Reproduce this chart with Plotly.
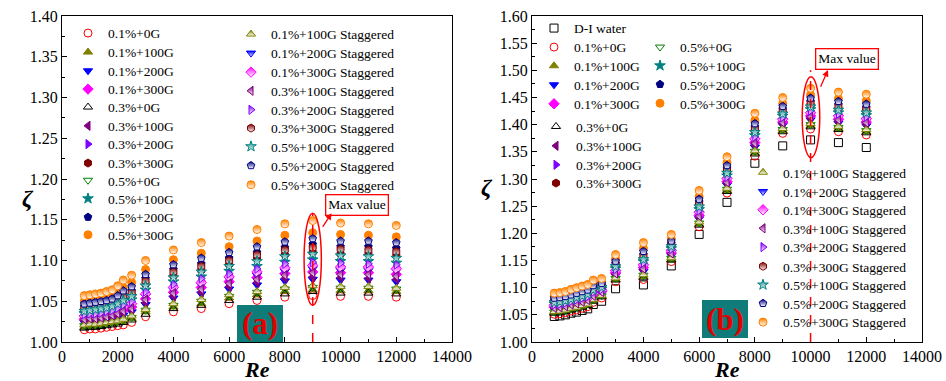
import plotly.graph_objects as go

W, H = 946, 381

# Reynolds numbers shared by every series
re_values = [800, 1000, 1200, 1400, 1600, 1800, 2000, 2200, 2500,
             3000, 4000, 5000, 6000, 7000, 8000, 9000, 10000, 11000, 12000]

# ---- panel (a) ----
a_01_0 = [1.015, 1.016, 1.016, 1.017, 1.018, 1.019, 1.020, 1.021, 1.024, 1.031, 1.037, 1.041, 1.047, 1.051, 1.055, 1.057, 1.056, 1.056, 1.055]
a_01_100 = [1.018, 1.019, 1.019, 1.020, 1.022, 1.023, 1.024, 1.025, 1.029, 1.037, 1.043, 1.047, 1.054, 1.058, 1.062, 1.064, 1.063, 1.063, 1.062]
a_01_200 = [1.024, 1.025, 1.026, 1.027, 1.028, 1.029, 1.031, 1.033, 1.037, 1.046, 1.054, 1.059, 1.065, 1.070, 1.075, 1.077, 1.076, 1.076, 1.074]
a_01_300 = [1.028, 1.029, 1.030, 1.031, 1.032, 1.033, 1.036, 1.039, 1.043, 1.053, 1.061, 1.067, 1.074, 1.079, 1.084, 1.086, 1.085, 1.085, 1.083]
a_03_0 = [1.017, 1.018, 1.018, 1.019, 1.020, 1.021, 1.022, 1.024, 1.027, 1.034, 1.041, 1.045, 1.051, 1.055, 1.059, 1.062, 1.060, 1.060, 1.059]
a_03_100 = [1.026, 1.027, 1.027, 1.028, 1.029, 1.030, 1.032, 1.035, 1.039, 1.048, 1.056, 1.061, 1.068, 1.073, 1.078, 1.080, 1.079, 1.078, 1.077]
a_03_200 = [1.033, 1.034, 1.034, 1.035, 1.037, 1.038, 1.041, 1.044, 1.048, 1.060, 1.069, 1.075, 1.082, 1.088, 1.093, 1.096, 1.094, 1.093, 1.092]
a_03_300 = [1.039, 1.040, 1.041, 1.042, 1.044, 1.045, 1.048, 1.053, 1.058, 1.071, 1.081, 1.088, 1.095, 1.102, 1.107, 1.110, 1.108, 1.108, 1.106]
a_05_0 = [1.020, 1.021, 1.021, 1.022, 1.023, 1.024, 1.025, 1.027, 1.030, 1.039, 1.045, 1.050, 1.056, 1.061, 1.065, 1.067, 1.066, 1.066, 1.065]
a_05_100 = [1.035, 1.036, 1.037, 1.038, 1.039, 1.041, 1.044, 1.047, 1.052, 1.064, 1.074, 1.080, 1.087, 1.093, 1.098, 1.101, 1.099, 1.099, 1.097]
a_05_200 = [1.044, 1.045, 1.045, 1.046, 1.048, 1.050, 1.053, 1.058, 1.063, 1.078, 1.089, 1.096, 1.103, 1.110, 1.116, 1.120, 1.117, 1.117, 1.115]
a_05_300 = [1.050, 1.051, 1.052, 1.053, 1.055, 1.057, 1.061, 1.067, 1.073, 1.089, 1.101, 1.109, 1.117, 1.124, 1.131, 1.134, 1.132, 1.131, 1.129]
a_01_100s = [1.021, 1.022, 1.022, 1.023, 1.024, 1.025, 1.026, 1.028, 1.032, 1.040, 1.047, 1.052, 1.058, 1.062, 1.067, 1.069, 1.068, 1.068, 1.066]
a_01_200s = [1.030, 1.031, 1.032, 1.033, 1.034, 1.035, 1.038, 1.041, 1.045, 1.056, 1.064, 1.070, 1.077, 1.082, 1.087, 1.090, 1.088, 1.088, 1.087]
a_01_300s = [1.032, 1.033, 1.033, 1.034, 1.036, 1.037, 1.040, 1.043, 1.047, 1.059, 1.067, 1.073, 1.080, 1.086, 1.091, 1.094, 1.092, 1.092, 1.090]
a_03_100s = [1.028, 1.029, 1.029, 1.030, 1.031, 1.033, 1.035, 1.038, 1.041, 1.052, 1.060, 1.065, 1.072, 1.077, 1.082, 1.085, 1.083, 1.083, 1.081]
a_03_200s = [1.034, 1.035, 1.035, 1.036, 1.038, 1.039, 1.042, 1.046, 1.050, 1.062, 1.071, 1.078, 1.084, 1.090, 1.096, 1.098, 1.097, 1.096, 1.095]
a_03_300s = [1.042, 1.043, 1.044, 1.045, 1.046, 1.048, 1.051, 1.056, 1.061, 1.075, 1.086, 1.093, 1.100, 1.107, 1.113, 1.116, 1.114, 1.113, 1.111]
a_05_100s = [1.038, 1.039, 1.040, 1.041, 1.042, 1.044, 1.047, 1.051, 1.056, 1.069, 1.079, 1.086, 1.093, 1.099, 1.105, 1.108, 1.106, 1.105, 1.103]
a_05_200s = [1.047, 1.048, 1.049, 1.050, 1.051, 1.053, 1.057, 1.063, 1.068, 1.083, 1.095, 1.103, 1.110, 1.117, 1.123, 1.127, 1.124, 1.124, 1.122]
a_05_300s = [1.057, 1.058, 1.059, 1.060, 1.062, 1.064, 1.069, 1.076, 1.082, 1.100, 1.113, 1.122, 1.130, 1.138, 1.145, 1.149, 1.146, 1.145, 1.143]

# ---- panel (b) ----
b_water = [1.047, 1.048, 1.050, 1.053, 1.055, 1.058, 1.061, 1.069, 1.075, 1.098, 1.105, 1.140, 1.198, 1.257, 1.329, 1.361, 1.372, 1.367, 1.358]
b_01_0 = [1.051, 1.052, 1.054, 1.057, 1.059, 1.062, 1.065, 1.073, 1.081, 1.111, 1.115, 1.148, 1.212, 1.274, 1.342, 1.384, 1.392, 1.387, 1.381]
b_01_100 = [1.054, 1.055, 1.057, 1.060, 1.062, 1.065, 1.068, 1.076, 1.084, 1.115, 1.120, 1.152, 1.217, 1.279, 1.348, 1.389, 1.398, 1.393, 1.387]
b_01_200 = [1.060, 1.061, 1.063, 1.066, 1.068, 1.071, 1.074, 1.082, 1.089, 1.122, 1.130, 1.159, 1.227, 1.289, 1.359, 1.399, 1.409, 1.403, 1.398]
b_01_300 = [1.064, 1.065, 1.067, 1.070, 1.072, 1.075, 1.078, 1.086, 1.093, 1.127, 1.137, 1.164, 1.233, 1.295, 1.367, 1.405, 1.416, 1.410, 1.405]
b_03_0 = [1.053, 1.054, 1.056, 1.059, 1.061, 1.064, 1.067, 1.075, 1.083, 1.114, 1.118, 1.151, 1.215, 1.277, 1.346, 1.387, 1.396, 1.391, 1.385]
b_03_100 = [1.061, 1.062, 1.064, 1.067, 1.069, 1.072, 1.075, 1.083, 1.090, 1.124, 1.132, 1.161, 1.229, 1.291, 1.362, 1.401, 1.411, 1.405, 1.400]
b_03_200 = [1.067, 1.068, 1.070, 1.074, 1.076, 1.079, 1.082, 1.090, 1.096, 1.132, 1.144, 1.169, 1.240, 1.302, 1.375, 1.412, 1.424, 1.418, 1.413]
b_03_300 = [1.074, 1.075, 1.077, 1.080, 1.083, 1.086, 1.089, 1.097, 1.102, 1.140, 1.154, 1.177, 1.251, 1.313, 1.388, 1.422, 1.436, 1.429, 1.425]
b_05_0 = [1.055, 1.056, 1.058, 1.061, 1.064, 1.067, 1.070, 1.078, 1.085, 1.117, 1.123, 1.154, 1.219, 1.281, 1.351, 1.391, 1.400, 1.395, 1.389]
b_05_100 = [1.070, 1.071, 1.073, 1.076, 1.079, 1.082, 1.085, 1.093, 1.098, 1.135, 1.148, 1.172, 1.244, 1.306, 1.380, 1.416, 1.428, 1.422, 1.417]
b_05_200 = [1.078, 1.079, 1.081, 1.084, 1.087, 1.090, 1.093, 1.101, 1.106, 1.145, 1.161, 1.182, 1.258, 1.320, 1.396, 1.429, 1.443, 1.437, 1.432]
b_05_300 = [1.084, 1.085, 1.087, 1.091, 1.093, 1.096, 1.099, 1.107, 1.111, 1.153, 1.172, 1.190, 1.268, 1.330, 1.408, 1.439, 1.455, 1.448, 1.444]
b_01_100s = [1.056, 1.057, 1.059, 1.062, 1.064, 1.067, 1.070, 1.078, 1.086, 1.118, 1.124, 1.155, 1.221, 1.283, 1.352, 1.393, 1.402, 1.397, 1.391]
b_01_200s = [1.065, 1.066, 1.068, 1.071, 1.074, 1.077, 1.080, 1.088, 1.094, 1.129, 1.140, 1.166, 1.236, 1.298, 1.370, 1.408, 1.419, 1.413, 1.408]
b_01_300s = [1.067, 1.068, 1.070, 1.073, 1.075, 1.078, 1.081, 1.089, 1.095, 1.131, 1.142, 1.168, 1.239, 1.301, 1.374, 1.410, 1.422, 1.416, 1.411]
b_03_100s = [1.063, 1.064, 1.066, 1.069, 1.071, 1.074, 1.077, 1.085, 1.092, 1.126, 1.135, 1.163, 1.232, 1.294, 1.366, 1.404, 1.415, 1.409, 1.404]
b_03_200s = [1.069, 1.070, 1.072, 1.075, 1.078, 1.081, 1.084, 1.092, 1.097, 1.134, 1.146, 1.171, 1.242, 1.304, 1.378, 1.414, 1.426, 1.420, 1.415]
b_03_300s = [1.076, 1.077, 1.079, 1.083, 1.085, 1.088, 1.091, 1.099, 1.104, 1.143, 1.159, 1.180, 1.255, 1.317, 1.393, 1.426, 1.440, 1.434, 1.429]
b_05_100s = [1.073, 1.074, 1.076, 1.079, 1.082, 1.085, 1.088, 1.096, 1.101, 1.139, 1.152, 1.176, 1.249, 1.311, 1.386, 1.420, 1.433, 1.427, 1.422]
b_05_200s = [1.081, 1.082, 1.084, 1.087, 1.090, 1.093, 1.096, 1.104, 1.108, 1.149, 1.167, 1.186, 1.263, 1.325, 1.402, 1.434, 1.449, 1.443, 1.438]
b_05_300s = [1.090, 1.091, 1.093, 1.097, 1.100, 1.103, 1.106, 1.114, 1.117, 1.161, 1.183, 1.198, 1.279, 1.341, 1.421, 1.450, 1.467, 1.460, 1.456]

SERIF = "Liberation Serif"

# name -> (symbol, colour, half-filled?)
STYLE = {
    "D-I water": ("square-open", "#000000", False),
    "0.1%+0G": ("circle-open", "#ff0000", False),
    "0.1%+100G": ("triangle-up", "#808000", False),
    "0.1%+200G": ("triangle-down", "#0000ff", False),
    "0.1%+300G": ("diamond", "#ff00ff", False),
    "0.3%+0G": ("triangle-up-open", "#000000", False),
    "0.3%+100G": ("triangle-left", "#800080", False),
    "0.3%+200G": ("triangle-right", "#8000ff", False),
    "0.3%+300G": ("hexagon", "#800000", False),
    "0.5%+0G": ("triangle-down-open", "#008000", False),
    "0.5%+100G": ("star", "#008080", False),
    "0.5%+200G": ("pentagon", "#000080", False),
    "0.5%+300G": ("circle", "#ff8000", False),
    "0.1%+100G Staggered": ("triangle-up", "#808000", True),
    "0.1%+200G Staggered": ("triangle-down", "#0000ff", True),
    "0.1%+300G Staggered": ("diamond", "#ff00ff", True),
    "0.3%+100G Staggered": ("triangle-left", "#800080", True),
    "0.3%+200G Staggered": ("triangle-right", "#8000ff", True),
    "0.3%+300G Staggered": ("hexagon", "#800000", True),
    "0.5%+100G Staggered": ("star", "#008080", True),
    "0.5%+200G Staggered": ("pentagon", "#000080", True),
    "0.5%+300G Staggered": ("circle", "#ff8000", True),
}

# (name, values, legend marker centre in pixels)
panel_a = [
    ("0.1%+0G", a_01_0, (88, 33.3)),
    ("0.1%+100G", a_01_100, (88, 52.3)),
    ("0.1%+200G", a_01_200, (88, 71.0)),
    ("0.1%+300G", a_01_300, (88, 89.3)),
    ("0.3%+0G", a_03_0, (88, 107.3)),
    ("0.3%+100G", a_03_100, (88, 126.0)),
    ("0.3%+200G", a_03_200, (88, 144.3)),
    ("0.3%+300G", a_03_300, (88, 163.3)),
    ("0.5%+0G", a_05_0, (88, 180.5)),
    ("0.5%+100G", a_05_100, (88, 198.8)),
    ("0.5%+200G", a_05_200, (88, 217.3)),
    ("0.5%+300G", a_05_300, (88, 235.0)),
    ("0.1%+100G Staggered", a_01_100s, (251, 34.3)),
    ("0.1%+200G Staggered", a_01_200s, (251, 53.3)),
    ("0.1%+300G Staggered", a_01_300s, (251, 72.3)),
    ("0.3%+100G Staggered", a_03_100s, (251, 91.0)),
    ("0.3%+200G Staggered", a_03_200s, (251, 110.0)),
    ("0.3%+300G Staggered", a_03_300s, (251, 128.3)),
    ("0.5%+100G Staggered", a_05_100s, (251, 146.7)),
    ("0.5%+200G Staggered", a_05_200s, (251, 165.7)),
    ("0.5%+300G Staggered", a_05_300s, (251, 185.0)),
]

panel_b = [
    ("D-I water", b_water, (554, 28.3)),
    ("0.1%+0G", b_01_0, (554, 47.3)),
    ("0.1%+100G", b_01_100, (554, 66.0)),
    ("0.1%+200G", b_01_200, (554, 85.0)),
    ("0.1%+300G", b_01_300, (554, 104.0)),
    ("0.3%+0G", b_03_0, (556, 126.7)),
    ("0.3%+100G", b_03_100, (556, 146.0)),
    ("0.3%+200G", b_03_200, (556, 165.0)),
    ("0.3%+300G", b_03_300, (556, 183.3)),
    ("0.5%+0G", b_05_0, (660, 47.3)),
    ("0.5%+100G", b_05_100, (660, 65.8)),
    ("0.5%+200G", b_05_200, (660, 84.5)),
    ("0.5%+300G", b_05_300, (660, 103.5)),
    ("0.1%+100G Staggered", b_01_100s, (763, 172.5)),
    ("0.1%+200G Staggered", b_01_200s, (763, 191.7)),
    ("0.1%+300G Staggered", b_01_300s, (763, 210.0)),
    ("0.3%+100G Staggered", b_03_100s, (763, 228.5)),
    ("0.3%+200G Staggered", b_03_200s, (763, 247.3)),
    ("0.3%+300G Staggered", b_03_300s, (763, 266.5)),
    ("0.5%+100G Staggered", b_05_100s, (763, 285.0)),
    ("0.5%+200G Staggered", b_05_200s, (763, 303.5)),
    ("0.5%+300G Staggered", b_05_300s, (763, 322.3)),
]

fig = go.Figure()
legends = {}
count = 0


def add_series(name, values, pos, xa, ya):
    global count
    count += 1
    key = "legend" if count == 1 else f"legend{count}"
    symbol, color, half = STYLE[name]
    marker = dict(symbol=symbol, size=8, color=color,
                  line=dict(color=color, width=1))
    if half:
        marker["gradient"] = dict(type="vertical", color="white")
    fig.add_trace(go.Scatter(
        x=re_values, y=values, mode="markers", name=name,
        marker=marker, xaxis=xa, yaxis=ya, legend=key, showlegend=True,
    ))
    mx, my = pos
    legends[key] = dict(
        x=(mx - 20) / W, y=1 - my / H, xanchor="left", yanchor="middle",
        bgcolor="rgba(0,0,0,0)", borderwidth=0,
        font=dict(family=SERIF, size=13.5, color="black"),
        itemclick=False, itemdoubleclick=False,
    )


for name, vals, pos in panel_a:
    add_series(name, vals, pos, "x", "y")
for name, vals, pos in panel_b:
    add_series(name, vals, pos, "x2", "y2")

axis_common = dict(
    showline=True, mirror=True, linecolor="black", linewidth=1.3,
    ticks="inside", ticklen=5, tickwidth=1.2, tickcolor="black",
    showgrid=False, zeroline=False, automargin=False,
    tickfont=dict(family=SERIF, size=16, color="black"),
)

pa_x = [62 / W, 452 / W]
pb_x = [532 / W, 922 / W]
p_y = [(H - 342) / H, (H - 16) / H]

fig.update_layout(
    width=W, height=H, margin=dict(l=0, r=0, t=0, b=0, autoexpand=False),
    paper_bgcolor="white", plot_bgcolor="white",
    xaxis=dict(domain=pa_x, range=[0, 14000], dtick=2000, tickformat="d", anchor="y",
               minor=dict(dtick=1000, ticks="inside", ticklen=3, tickcolor="black"),
               **axis_common),
    yaxis=dict(domain=p_y, range=[1.0, 1.4], dtick=0.05, tickformat=".2f", anchor="x",
               minor=dict(dtick=0.025, ticks="inside", ticklen=3, tickcolor="black"),
               **axis_common),
    xaxis2=dict(domain=pb_x, range=[0, 14000], dtick=2000, tickformat="d", anchor="y2",
                minor=dict(dtick=1000, ticks="inside", ticklen=3, tickcolor="black"),
                **axis_common),
    yaxis2=dict(domain=p_y, range=[1.0, 1.6], dtick=0.05, tickformat=".2f", anchor="x2",
                minor=dict(dtick=0.025, ticks="inside", ticklen=3, tickcolor="black"),
                **axis_common),
    **legends,
)

RED = "#ff0000"
TEAL = "#107c79"

shapes = [
    # highlighted columns
    dict(type="line", xref="x", yref="y", x0=9000, x1=9000, y0=1.0, y1=1.158,
         line=dict(color=RED, width=1.5, dash="dash")),
    dict(type="circle", xref="x", yref="y", x0=8690, x1=9310, y0=1.045, y1=1.158,
         line=dict(color=RED, width=1.5)),
    dict(type="line", xref="x2", yref="y2", x0=10000, x1=10000, y0=1.0, y1=1.50,
         line=dict(color=RED, width=1.5, dash="dash")),
    dict(type="circle", xref="x2", yref="y2", x0=9700, x1=10330, y0=1.339, y1=1.488,
         line=dict(color=RED, width=1.5)),
    # panel tags
    dict(type="rect", xref="paper", yref="paper", x0=237 / W, x1=283 / W,
         y0=1 - 342 / H, y1=1 - 305 / H, fillcolor=TEAL, line=dict(width=0), layer="above"),
    dict(type="rect", xref="paper", yref="paper", x0=702 / W, x1=748 / W,
         y0=1 - 338 / H, y1=1 - 300 / H, fillcolor=TEAL, line=dict(width=0), layer="above"),
]
fig.update_layout(shapes=shapes)


def label(text, px, py, size):
    return dict(text=text, x=px / W, y=1 - py / H, xref="paper", yref="paper",
                xanchor="center", yanchor="middle", showarrow=False,
                font=dict(family=SERIF, size=size, color="black"))


tag_a = label("<b>(a)</b>", 260, 323, 31)
tag_a["font"]["color"] = "#e00000"
tag_b = label("<b>(b)</b>", 725, 319, 31)
tag_b["font"]["color"] = "#e00000"

ann = [
    tag_a, tag_b,
    dict(text="Max value", x=10590, y=1.168, xref="x", yref="y", showarrow=False,
         xanchor="center", yanchor="middle",
         font=dict(family=SERIF, size=13.5, color="black"),
         bordercolor=RED, borderwidth=1.3, borderpad=2, bgcolor="white"),
    dict(text="", x=9680, y=1.158, ax=9322, ay=1.1395, xref="x", yref="y",
         axref="x", ayref="y", showarrow=True, arrowhead=2, arrowsize=1,
         arrowwidth=1.3, arrowcolor=RED, standoff=0),
    dict(text="Max value", x=11290, y=1.521, xref="x2", yref="y2", showarrow=False,
         xanchor="center", yanchor="middle",
         font=dict(family=SERIF, size=13.5, color="black"),
         bordercolor=RED, borderwidth=1.3, borderpad=2, bgcolor="white"),
    dict(text="", x=10625, y=1.5006, ax=10337, ay=1.467, xref="x2", yref="y2",
         axref="x2", ayref="y2", showarrow=True, arrowhead=2, arrowsize=1,
         arrowwidth=1.3, arrowcolor=RED, standoff=0),
    # axis titles
    label("<b><i>Re</i></b>", 257, 369, 22),
    label("<b><i>Re</i></b>", 727, 369, 22),
    label("<b><i>ζ</i></b>", 28, 198, 24),
    label("<b><i>ζ</i></b>", 487, 188, 24),
]
fig.update_layout(annotations=ann)

fig.write_html("out.html")
